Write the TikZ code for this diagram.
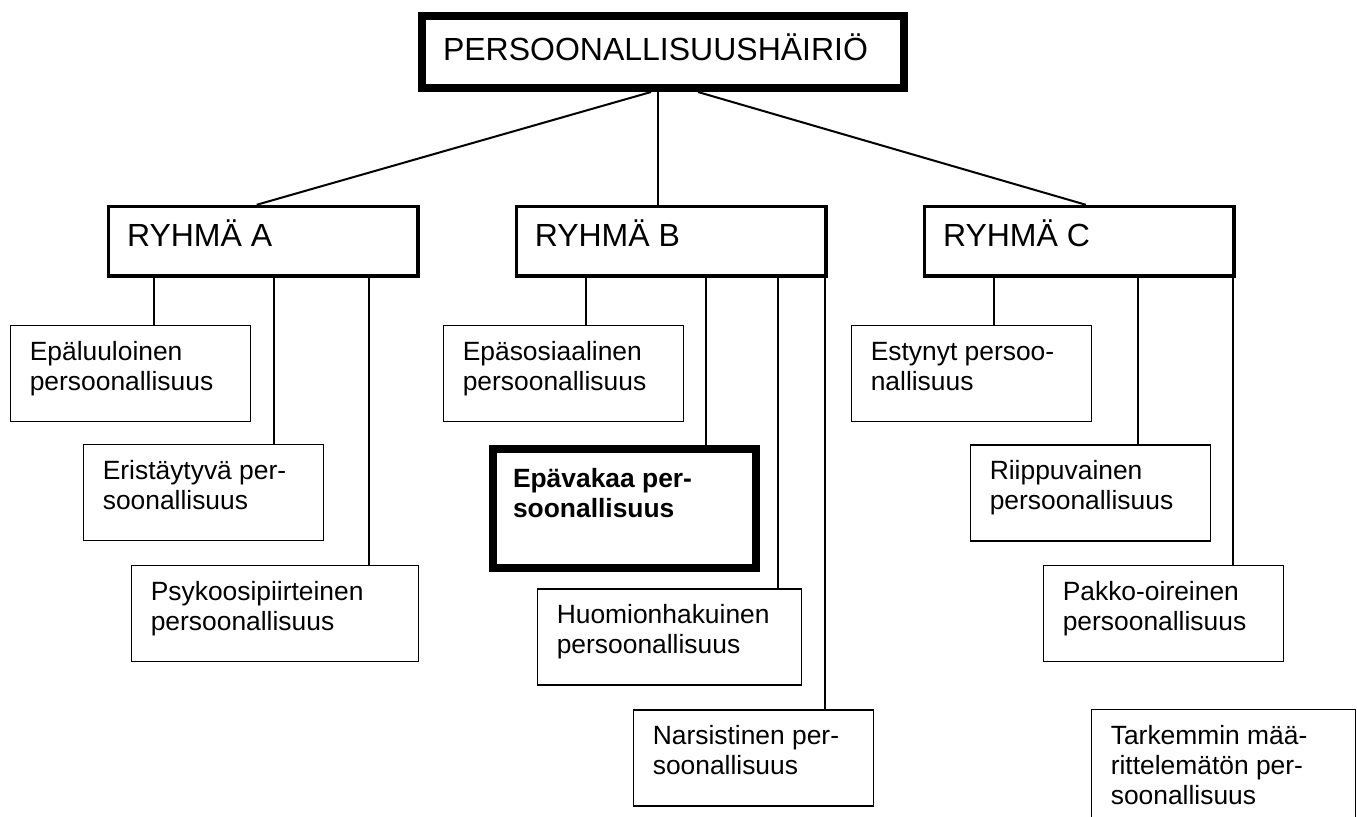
\documentclass[tikz,border=0pt]{standalone}
\usepackage{fontspec}
\setmainfont{Liberation Sans}
\usetikzlibrary{calc}
\begin{document}
\begin{tikzpicture}[x=0.5pt,y=-0.5pt,
  titlebox/.style={draw, line width=4pt, anchor=north west, inner xsep=10.5pt, inner ysep=0pt,
    text height=22pt, text depth=14pt, font=\fontsize{16}{19}\selectfont},
  grpbox/.style={draw, line width=1.75pt, anchor=north west, inner xsep=9.25pt, inner ysep=0pt,
    text height=20.1pt, text depth=14.65pt, font=\fontsize{16}{19}\selectfont},
  leafbox/.style={draw, line width=0.8pt, anchor=north west, inner xsep=9.75pt, inner ysep=0pt,
    text height=17.5pt, text depth=30.5pt, font=\fontsize{13.2}{15}\selectfont},
  keybox/.style={draw, line width=4pt, anchor=north west, inner xsep=10pt, inner ysep=0pt,
    text height=19pt, text depth=40.5pt, font=\fontsize{13.2}{15}\selectfont\bfseries},
  conn/.style={line width=0.8pt},
  diag/.style={line width=1pt}]
\useasboundingbox (0,0) rectangle (1357,816);
\fill[white] (0,0) rectangle (1357,816);

% title and groups
\node[titlebox] (top) at (418,12) {\parbox[t]{220pt}{PERSOONALLISUUSHÄIRIÖ}};
\node[grpbox] (ra) at (106.75,204.75) {\parbox[t]{136.25pt}{RYHMÄ A}};
\node[grpbox] (rb) at (514.5,204.75) {\parbox[t]{136.25pt}{RYHMÄ B}};
\node[grpbox] (rc) at (922.75,204.75) {\parbox[t]{136.25pt}{RYHMÄ C}};

% group A
\node[leafbox] (epal) at (9.5,324.5) {\parbox[t]{100.5pt}{Epäluuloinen\\persoonallisuus}};
\node[leafbox] (eris) at (82.5,443.5) {\parbox[t]{100.5pt}{Eristäytyvä per-\\soonallisuus}};
\node[leafbox] (psyk) at (130.5,564.5) {\parbox[t]{124pt}{Psykoosipiirteinen\\persoonallisuus}};

% group B
\node[leafbox] (epas) at (442.5,324.5) {\parbox[t]{100.5pt}{Epäsosiaalinen\\persoonallisuus}};
\node[keybox] (epav) at (489,445) {\parbox[t]{111.5pt}{Epävakaa per-\\soonallisuus}};
\node[leafbox] (huom) at (536.5,588) {\parbox[t]{112.5pt}{Huomionhakuinen\\persoonallisuus}};
\node[leafbox] (nars) at (632.5,709) {\parbox[t]{100.5pt}{Narsistinen per-\\soonallisuus}};

% group C
\node[leafbox] (esty) at (850.5,324.5) {\parbox[t]{100.5pt}{Estynyt persoo-\\nallisuus}};
\node[leafbox] (riip) at (969.5,444) {\parbox[t]{100.5pt}{Riippuvainen\\persoonallisuus}};
\node[leafbox] (pakk) at (1042.5,564.5) {\parbox[t]{100.5pt}{Pakko-oireinen\\persoonallisuus}};
\node[leafbox, text depth=42.5pt] (tark) at (1090.5,708.5) {\parbox[t]{112.5pt}{Tarkemmin mää-\\rittelemätön per-\\soonallisuus}};

% connectors from title
\coordinate (cb) at (658,0);
\draw[diag] ($(top.south)+(-12,0)$) -- ($(ra.north)+(-6.5,0)$);
\draw[conn] (top.south -| cb) -- (rb.north -| cb);
\draw[diag] ($(top.south)+(35,0)$) -- ($(rc.north)+(6.5,0)$);

% connectors from groups
\foreach \p/\c/\x in {ra/epal/154, ra/eris/274, ra/psyk/369,
                      rb/epas/586, rb/epav/706, rb/huom/778, rb/nars/825,
                      rc/esty/994, rc/riip/1138, rc/pakk/1233} {
  \coordinate (v\c) at (\x,0);
  \draw[conn] (\p.south -| v\c) -- (\c.north -| v\c);
}
\end{tikzpicture}
\end{document}
